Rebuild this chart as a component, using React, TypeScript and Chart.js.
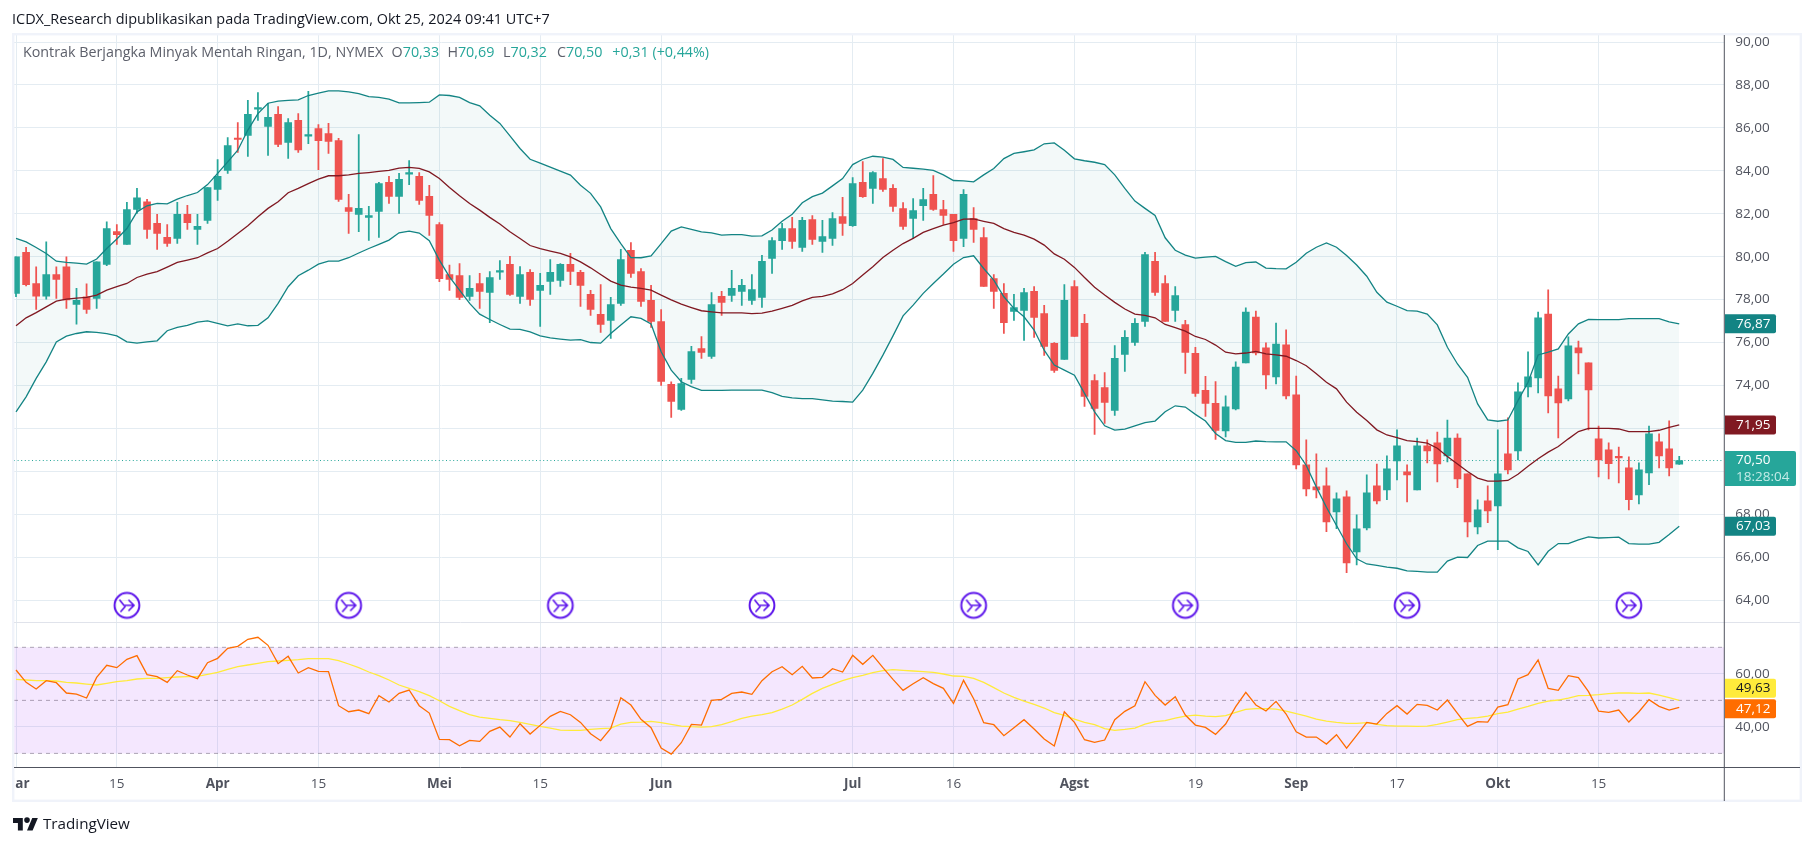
import React, { useEffect, useRef } from "react";
import { Chart, registerables } from "chart.js";

Chart.register(...registerables);

const opens = [78.29,80.20,78.75,78.16,79.17,79.53,77.77,78.13,78.05,79.64,81.17,80.57,82.20,82.56,81.55,80.90,80.85,81.97,81.27,81.69,83.13,84.02,85.51,85.65,86.87,86.07,86.63,85.32,86.35,85.62,85.97,85.74,85.41,82.29,81.97,81.83,82.11,83.46,82.81,83.85,83.74,82.81,81.50,79.17,79.12,78.15,78.75,78.33,79.28,79.64,78.15,79.27,78.43,78.85,78.89,79.64,79.27,78.24,77.31,77.03,77.82,80.29,79.31,77.96,76.98,74.05,72.88,74.28,75.72,75.35,78.15,78.19,78.38,77.96,78.10,79.92,80.75,81.31,80.43,81.73,80.71,80.85,81.87,81.45,83.46,83.18,83.64,83.18,82.24,81.78,82.38,82.90,82.20,81.97,80.85,81.78,80.89,78.98,78.29,77.45,77.49,78.38,77.35,75.96,75.21,78.61,76.89,74.23,73.90,72.83,75.44,76.00,76.98,79.78,78.75,77.49,76.84,75.49,73.77,73.16,71.88,72.91,75.05,77.19,75.75,74.40,75.89,73.56,70.30,69.27,69.32,68.11,68.81,66.24,67.36,69.32,69.13,70.48,69.97,69.13,71.18,71.32,70.72,71.55,69.88,67.41,68.62,68.39,70.81,70.95,73.93,74.35,77.33,73.84,73.37,75.75,75.05,71.51,71.00,70.67,70.16,68.90,69.92,71.37,71.04,70.33];
const highs = [79.99,80.43,79.53,80.69,79.53,79.99,78.52,78.74,79.76,81.62,81.50,82.53,83.18,82.67,81.97,81.50,82.53,82.39,81.97,83.22,84.53,85.55,86.25,87.28,87.65,87.14,87.00,86.44,86.67,87.70,86.16,86.21,85.51,82.90,85.69,82.34,83.46,83.74,83.88,84.48,83.92,83.32,81.59,79.61,79.68,79.12,79.22,79.30,79.82,80.01,79.54,79.40,79.22,79.87,79.68,80.15,79.36,78.43,78.70,78.10,80.34,80.66,79.45,78.66,77.54,74.17,74.33,75.82,76.28,78.33,78.38,79.36,78.94,79.17,80.06,80.89,81.55,81.83,81.83,81.92,81.69,82.06,82.76,83.69,84.43,83.97,84.57,83.36,82.52,82.71,83.18,83.78,82.62,81.97,83.13,82.29,81.36,79.17,78.75,78.24,78.52,78.61,77.73,76.00,78.70,78.89,77.31,74.51,74.60,75.86,76.56,77.12,80.20,80.20,79.12,78.61,77.03,75.77,74.42,74.18,73.51,75.10,77.61,77.47,75.98,76.91,76.59,74.44,71.46,70.81,70.16,68.99,69.09,67.97,69.83,70.34,70.72,71.93,70.30,71.55,71.46,71.83,72.39,71.74,69.88,68.67,69.32,71.93,72.49,74.12,75.56,77.42,78.45,74.44,76.26,76.07,75.05,72.11,71.32,71.13,70.67,70.39,72.11,71.74,72.35,70.69];
const lows = [78.13,78.64,77.54,78.02,78.05,77.59,76.86,77.35,77.59,79.58,80.57,80.57,82.01,80.85,80.34,80.48,80.62,81.27,80.57,81.55,82.62,83.88,84.86,84.67,86.35,84.72,85.13,84.58,84.86,85.27,84.06,84.81,82.57,81.08,81.17,80.76,80.90,82.48,82.01,83.36,82.43,80.99,78.83,78.43,78.00,77.96,77.59,76.93,78.94,78.19,77.82,77.73,76.75,78.24,78.61,78.70,77.68,77.26,76.47,76.19,77.73,79.03,77.68,76.70,74.00,72.51,72.83,74.09,75.26,75.26,77.26,77.91,77.73,77.77,77.63,79.22,80.34,80.38,80.24,80.57,80.20,80.52,80.99,81.41,82.76,82.48,83.04,82.11,81.27,80.85,81.69,82.15,81.50,80.24,80.47,80.66,78.61,77.59,76.42,77.03,76.10,76.24,75.40,74.60,75.21,76.28,73.02,71.72,72.23,72.60,74.65,75.86,76.75,78.19,76.98,76.98,74.56,73.49,72.55,71.48,71.60,72.86,75.05,75.42,73.84,74.07,73.37,70.11,68.85,68.76,67.18,67.32,65.27,65.64,67.27,68.48,68.67,69.60,68.57,69.13,70.39,69.50,70.44,69.23,66.94,67.08,67.60,66.34,69.88,70.53,73.46,73.65,72.72,71.55,73.28,74.54,71.93,69.74,69.64,69.46,68.20,68.48,69.37,70.16,69.78,70.32];
const closes = [79.99,78.70,78.16,79.17,78.94,77.98,77.96,77.54,79.76,81.31,81.03,82.20,82.74,81.27,81.08,80.62,81.97,81.59,81.41,83.22,83.74,85.18,85.46,86.63,86.95,86.49,85.23,86.25,84.98,85.69,85.41,85.37,82.67,82.11,82.25,81.92,83.41,82.81,83.60,83.88,82.62,81.92,78.98,78.94,78.10,78.52,78.38,79.03,79.31,78.24,79.17,78.01,78.66,79.27,79.64,79.31,78.66,77.54,76.84,77.77,79.87,79.22,77.91,76.98,74.19,73.25,74.09,75.58,75.54,77.77,77.87,78.52,78.66,78.47,79.78,80.75,81.31,80.71,81.69,80.80,80.94,81.78,81.55,83.41,82.80,83.92,83.13,82.34,81.41,82.15,82.66,82.20,81.92,80.75,82.90,81.27,78.61,78.38,76.93,77.63,78.33,77.17,75.82,74.70,77.96,76.28,73.49,72.93,73.21,75.26,76.24,76.89,80.10,78.33,76.98,78.19,75.54,73.63,73.16,71.90,73.00,74.86,77.42,75.51,74.49,75.93,73.51,70.30,69.18,69.13,67.64,68.71,65.73,67.32,68.99,68.62,70.11,71.18,69.83,71.18,70.95,70.34,71.55,69.64,67.64,68.20,68.15,69.88,70.06,73.70,74.40,77.15,73.51,73.18,75.84,75.51,73.79,70.53,70.35,70.62,68.67,70.07,71.74,70.72,70.16,70.50];

const upperBand = [80.85,80.69,80.43,80.15,79.79,79.73,79.70,79.65,79.89,80.38,80.82,81.31,82.09,82.37,82.48,82.46,82.68,82.85,82.99,83.36,83.88,84.42,84.96,85.90,86.67,87.15,87.25,87.28,87.31,87.51,87.62,87.73,87.73,87.68,87.60,87.46,87.42,87.34,87.17,87.17,87.18,87.20,87.54,87.51,87.42,87.18,87.03,86.59,86.21,85.63,85.04,84.54,84.36,84.17,83.99,83.80,83.33,82.95,82.32,81.31,80.61,79.96,79.95,80.04,80.61,81.19,81.39,81.27,81.16,81.11,81.00,81.03,81.03,80.96,80.97,81.24,81.65,81.98,82.51,82.80,82.96,83.30,83.64,84.29,84.54,84.68,84.64,84.53,84.16,84.12,84.08,84.02,83.81,83.55,83.53,83.49,83.81,84.11,84.57,84.81,84.89,84.98,85.26,85.30,84.96,84.56,84.47,84.40,84.29,83.81,83.18,82.59,82.25,81.92,80.88,80.30,80.07,79.93,79.98,80.01,79.77,79.55,79.72,79.75,79.47,79.44,79.43,79.74,80.16,80.44,80.64,80.44,80.05,79.61,79.09,78.34,77.88,77.69,77.49,77.46,77.32,76.82,75.78,75.00,74.38,73.14,72.39,72.33,72.39,73.29,74.15,75.42,75.55,75.70,76.40,76.87,77.08,77.07,77.07,77.07,77.11,77.11,77.11,77.11,76.96,76.87];
const basisLine = [76.78,77.15,77.39,77.66,77.93,78.02,78.07,78.10,78.21,78.44,78.60,78.75,79.03,79.19,79.30,79.51,79.73,79.84,79.95,80.18,80.38,80.72,81.08,81.44,81.86,82.25,82.56,82.98,83.18,83.40,83.61,83.77,83.77,83.81,83.88,83.92,83.97,84.02,84.13,84.16,84.11,83.95,83.64,83.22,82.84,82.48,82.17,81.83,81.52,81.16,80.85,80.52,80.38,80.26,80.15,79.99,79.76,79.48,79.17,78.86,78.67,78.58,78.52,78.44,78.21,77.99,77.79,77.63,77.48,77.43,77.38,77.38,77.38,77.35,77.37,77.46,77.59,77.73,77.94,78.10,78.15,78.27,78.46,78.75,79.14,79.53,79.96,80.30,80.61,80.85,81.13,81.31,81.47,81.59,81.75,81.76,81.65,81.55,81.31,81.13,81.00,80.82,80.54,80.13,79.88,79.50,79.03,78.58,78.21,77.87,77.56,77.32,77.26,77.15,76.84,76.69,76.53,76.28,76.14,75.88,75.55,75.47,75.51,75.59,75.47,75.42,75.36,75.16,74.92,74.54,74.15,73.84,73.22,72.75,72.36,71.93,71.69,71.57,71.43,71.38,71.31,71.07,70.69,70.34,69.99,69.68,69.54,69.54,69.57,69.86,70.23,70.58,70.89,71.15,71.51,71.85,72.00,72.00,72.00,71.97,71.85,71.85,71.85,71.91,72.05,72.16];
const lowerBand = [72.77,73.47,74.33,75.10,76.03,76.30,76.42,76.50,76.47,76.41,76.31,76.03,75.97,76.03,76.08,76.55,76.70,76.80,76.95,77.01,76.89,76.78,76.87,76.78,76.80,77.15,77.82,78.60,79.11,79.37,79.65,79.79,79.79,79.95,80.17,80.38,80.57,80.77,81.11,81.19,81.10,80.74,79.84,79.06,78.44,77.82,77.32,77.07,76.84,76.62,76.61,76.50,76.31,76.22,76.16,76.11,76.13,76.00,75.97,76.42,76.81,77.20,77.12,76.86,75.57,74.71,74.17,73.94,73.77,73.77,73.77,73.78,73.78,73.78,73.78,73.66,73.49,73.42,73.38,73.38,73.33,73.27,73.25,73.22,73.78,74.56,75.41,76.31,77.24,77.74,78.29,78.75,79.19,79.65,79.96,80.04,79.45,78.91,78.13,77.59,77.20,76.58,75.64,74.95,74.71,74.48,73.63,72.77,72.12,71.92,71.96,72.12,72.27,72.34,72.77,73.05,72.99,72.65,72.34,71.76,71.43,71.35,71.35,71.41,71.38,71.37,71.37,70.96,70.27,69.26,68.32,67.47,66.62,65.92,65.68,65.61,65.53,65.48,65.36,65.33,65.30,65.30,65.81,66.00,65.98,66.54,66.74,66.74,66.74,66.43,66.26,65.64,66.27,66.63,66.63,66.80,66.94,66.89,66.91,66.93,66.63,66.60,66.60,66.69,67.05,67.44];

const rsiValues = [61.45,56.79,54.28,57.42,56.67,52.77,52.39,50.88,58.68,63.21,62.33,65.47,66.86,59.69,58.93,56.79,61.20,59.56,58.18,64.22,65.85,69.62,70.38,73.02,73.78,70.76,63.84,66.61,60.32,62.33,60.94,60.82,47.99,45.72,46.35,44.97,51.76,49.37,52.64,53.90,47.99,45.22,35.28,35.16,32.89,34.90,34.53,38.30,39.94,36.16,41.19,37.29,40.57,43.96,45.85,44.59,41.70,37.42,34.78,39.43,51.01,48.24,42.83,39.68,32.01,29.75,34.02,40.94,40.69,50.00,50.38,52.64,53.15,52.26,57.42,60.82,62.71,59.69,62.83,58.43,58.68,61.95,60.69,66.98,63.59,66.98,62.33,57.93,53.77,56.29,58.55,56.29,54.53,48.87,57.55,50.63,41.57,40.82,36.67,39.68,42.70,39.18,35.41,32.77,45.72,41.70,35.16,34.15,35.03,42.70,45.85,47.99,57.04,51.89,48.24,51.38,44.46,40.69,39.81,37.17,41.07,47.61,53.02,48.24,45.97,49.62,44.84,38.17,36.16,36.16,33.52,37.04,32.01,36.79,41.70,41.07,45.09,47.99,44.84,48.49,48.11,46.35,50.13,45.09,40.19,41.95,41.82,47.48,48.36,58.05,59.69,65.22,54.53,53.77,59.31,58.55,53.27,45.97,45.47,46.35,41.82,45.72,50.25,47.74,46.35,47.36];
const rsiAverage = [57.93,57.67,57.42,57.42,57.30,56.79,56.54,56.16,55.79,56.42,57.04,57.42,58.05,58.30,58.30,58.55,58.81,58.93,59.06,59.81,60.57,61.70,62.71,63.33,63.96,64.59,64.84,65.10,65.35,65.73,65.73,65.73,64.97,63.71,62.33,60.69,59.31,57.67,55.79,54.53,53.27,51.76,49.87,47.74,46.10,44.59,43.71,43.21,42.70,42.33,41.70,40.94,40.19,39.56,38.80,38.68,38.68,39.06,39.31,39.56,41.07,41.70,41.82,42.07,41.57,40.94,40.31,40.06,39.94,40.06,40.82,41.95,43.21,44.09,44.59,45.35,46.73,48.24,50.38,52.64,54.53,56.04,57.42,58.55,59.44,60.44,61.20,61.57,61.32,61.07,60.82,60.57,59.94,59.18,59.06,58.30,56.79,54.78,52.77,51.13,49.75,48.49,47.11,45.35,44.34,42.96,41.70,40.82,39.31,38.68,39.06,39.56,41.07,41.95,42.33,43.33,44.09,44.46,44.09,43.84,44.21,45.47,46.60,46.85,46.85,46.73,45.97,44.97,44.09,42.96,42.20,41.70,41.32,41.32,41.57,40.94,40.44,40.31,40.31,40.19,40.31,40.94,41.82,42.70,43.21,43.46,44.09,44.97,45.60,46.73,47.74,48.87,49.75,50.13,50.88,51.76,51.89,52.14,52.52,52.77,52.77,52.64,52.77,52.01,51.01,50.00];

const priceTicks = [64,66,68,70,72,74,76,78,80,82,84,86,88,90];
const rsiTicks = [40,60];
const timeTickIndex = [0,10,20,30,42,52,64,83,93,105,117,127,137,147,157];
const timeTickLabels = ["Mar","15","Apr","15","Mei","15","Jun","Jul","16","Agst","19","Sep","17","Okt","15"];
const monthLabels = ["Mar","Apr","Mei","Jun","Jul","Agst","Sep","Okt"];
const eventIndex = [11,33,54,74,95,116,138,160];
const eventPrice = 63.75;
const lastPrice = 70.5;
const rsiBands = [70,50,30];
const xRange = [-0.2,169.47];

const labelUpper = "76,87";
const labelBasis = "71,95";
const labelLower = "67,03";
const labelLast = "70,50";
const labelTimer = "18:28:04";
const labelRsiMa = "49,63";
const labelRsi = "47,12";

const titleText = "ICDX_Research dipublikasikan pada TradingView.com, Okt 25, 2024 09:41 UTC+7";
const legendName = "Kontrak Berjangka Minyak Mentah Ringan, 1D, NYMEX";
const legendOhlc = [["O","70,33"],["H","70,69"],["L","70,32"],["C","70,50"]];
const legendChange = "+0,31 (+0,44%)";

const UP = "#26a69a";
const DOWN = "#ef5350";
const BAND = "#138484";
const BASIS = "#801922";
const GRID = "#e4ecf2";
const TEXT = "#50535e";
const FONT = '"Open Sans", sans-serif';

const series = (arr: number[]) => arr.map((y, x) => ({ x, y }));
const flat = (y: number) => xRange.map((x) => ({ x, y }));

function makeIcon() {
  const c = document.createElement("canvas");
  c.width = 30;
  c.height = 30;
  const g = c.getContext("2d")!;
  g.strokeStyle = "#5e17eb";
  g.lineWidth = 2;
  g.lineCap = "round";
  g.beginPath();
  g.arc(15, 15, 12.4, 0, Math.PI * 2);
  g.stroke();
  g.lineWidth = 1.7;
  g.beginPath();
  g.moveTo(8, 10);
  g.lineTo(12, 15);
  g.lineTo(22, 15);
  g.moveTo(17, 10);
  g.lineTo(22, 15);
  g.lineTo(17, 20);
  g.moveTo(9, 21);
  g.lineTo(13, 16.5);
  g.stroke();
  return c;
}

const decor = {
  id: "decor",
  afterDraw(chart: any) {
    const { ctx, scales } = chart;
    const L = 14, R = 1800, T = 35, B = 800;
    const ax = 1724.3;
    ctx.save();
    // clip the first date label at the pane's edge
    ctx.fillStyle = "#ffffff";
    ctx.fillRect(0, 768, 12.5, 34);
    // frame
    ctx.strokeStyle = "#f0f3fa";
    ctx.lineWidth = 2.4;
    ctx.strokeRect(13.2, 34.2, 1787.6, 766.6);
    // pane separator and axis lines
    ctx.lineWidth = 1;
    ctx.strokeStyle = "#e0e3eb";
    ctx.beginPath();
    ctx.moveTo(L, 622.5);
    ctx.lineTo(R, 622.5);
    ctx.stroke();
    ctx.strokeStyle = "#50535e";
    ctx.beginPath();
    ctx.moveTo(L, 767.5);
    ctx.lineTo(R, 767.5);
    ctx.moveTo(ax, T);
    ctx.lineTo(ax, B + 1);
    ctx.stroke();

    // header texts
    ctx.textBaseline = "middle";
    ctx.textAlign = "left";
    ctx.font = `14.45px ${FONT}`;
    ctx.fillStyle = "#131722";
    ctx.fillText(titleText, 12, 20);
    ctx.font = `14.3px ${FONT}`;
    ctx.fillStyle = "#5d606b";
    ctx.fillText(legendName, 23, 53);
    const starts = [391.6, 447.4, 503, 557];
    legendOhlc.forEach(([k, v], i) => {
      ctx.fillStyle = "#5d606b";
      ctx.fillText(k, starts[i], 53);
      const w = ctx.measureText(k).width;
      ctx.fillStyle = UP;
      ctx.fillText(v, starts[i] + w, 53);
    });
    ctx.fillStyle = UP;
    ctx.fillText(legendChange, 612.3, 53);

    // last value tags on the right axis
    const tag = (y: number, h: number, w: number, bg: string) => {
      ctx.fillStyle = bg;
      ctx.beginPath();
      ctx.roundRect(ax + 0.7, y, w, h, [0, 2, 2, 0]);
      ctx.fill();
    };
    const text = (s: string, y: number, col: string) => {
      ctx.fillStyle = col;
      ctx.font = `13.5px ${FONT}`;
      ctx.fillText(s, 1736, y);
    };
    const py = scales.y;
    const ry = scales.rsi;
    const n = closes.length - 1;
    const yUpper = py.getPixelForValue(upperBand[n]);
    tag(yUpper - 9.5, 19, 51, BAND);
    text(labelUpper, yUpper, "#ffffff");
    const yBasis = py.getPixelForValue(basisLine[n]);
    tag(yBasis - 9.5, 19, 51, BASIS);
    text(labelBasis, yBasis, "#ffffff");
    const yLast = py.getPixelForValue(lastPrice);
    tag(yLast - 9.5, 35, 71, UP);
    text(labelLast, yLast, "#ffffff");
    text(labelTimer, yLast + 16.5, "#c4ebe7");
    const yLower = py.getPixelForValue(lowerBand[n]);
    tag(yLower - 9.5, 19, 51, BAND);
    text(labelLower, yLower, "#ffffff");
    const yMa = ry.getPixelForValue(rsiAverage[n]) - 12;
    tag(yMa - 9.5, 19, 51, "#ffeb3b");
    text(labelRsiMa, yMa, "#131722");
    const yRsi = ry.getPixelForValue(rsiValues[n]) + 1.3;
    tag(yRsi - 9.5, 19, 51, "#ff6d00");
    text(labelRsi, yRsi, "#ffffff");

    // TradingView mark and wordmark
    ctx.translate(13, 815.2);
    ctx.scale(0.7, 0.7);
    ctx.fillStyle = "#131722";
    ctx.fill(new Path2D("M14 22H7V11H0V4h14v18zM28 22h-8l7.5-18h8L28 22z"));
    ctx.beginPath();
    ctx.arc(20, 7, 4, 0, Math.PI * 2);
    ctx.fill();
    ctx.setTransform(1, 0, 0, 1, 0, 0);
    ctx.font = `15.2px ${FONT}`;
    ctx.fillStyle = "#131722";
    ctx.fillText("TradingView", 43, 825);
    ctx.restore();
  },
};

export default function App() {
  const ref = useRef<HTMLCanvasElement>(null);
  useEffect(() => {
    document.body.style.margin = "0";
    document.body.style.background = "#ffffff";
    const colors = closes.map((c, i) => (c >= opens[i] ? UP : DOWN));
    const tickStyle = { color: TEXT, font: { family: FONT, size: 13.5 } };
    const axisBase = {
      type: "linear" as const,
      position: "right" as const,
      stack: "panes",
      grid: { color: GRID, drawTicks: false, lineWidth: 1 },
      border: { display: false },
      afterFit(s: any) {
        s.width = 1801.7 - 1724.3;
        s.paddingTop = 0;
        s.paddingBottom = 0;
      },
    };
    const line = (label: string, data: any[], color: string, yAxisID: string, width = 1.3, extra: any = {}) => ({
      type: "line" as const,
      label,
      data,
      yAxisID,
      borderColor: color,
      borderWidth: width,
      pointRadius: 0,
      tension: 0,
      order: 1,
      fill: false,
      ...extra,
    });
    const chart = new Chart(ref.current!, {
      type: "bar",
      plugins: [decor],
      data: {
        datasets: [
          line("Batas atas", series(upperBand), BAND, "y", 1.3, {
            fill: { target: 1 },
            backgroundColor: "rgba(19,132,132,0.05)",
          }),
          line("Batas bawah", series(lowerBand), BAND, "y"),
          line("Basis", series(basisLine), BASIS, "y"),
          line("Harga terakhir", flat(lastPrice), UP, "y", 1, { borderDash: [1, 2.6], order: 20 }),
          {
            type: "bar" as const,
            label: "Sumbu",
            data: lows.map((l, x) => ({ x, y: [l, highs[x]] })),
            yAxisID: "y",
            backgroundColor: colors,
            barThickness: 1.1,
            grouped: false,
            order: 12,
          },
          {
            type: "bar" as const,
            label: "Badan",
            data: opens.map((o, x) => ({ x, y: [o, closes[x]] })),
            yAxisID: "y",
            backgroundColor: colors,
            barThickness: 7,
            minBarLength: 1.5,
            grouped: false,
            order: 11,
          },
          line("Peristiwa", eventIndex.map((x) => ({ x, y: eventPrice })), "#5e17eb", "y", 0, {
            showLine: false,
            pointStyle: makeIcon(),
            pointRadius: 13,
            clip: false,
          }),
          line("RSI 70", flat(rsiBands[0]), "rgba(120,110,130,0.6)", "rsi", 1, {
            borderDash: [4, 4],
            order: 5,
            fill: { target: 9 },
            backgroundColor: "rgba(156,39,243,0.11)",
          }),
          line("RSI 50", flat(rsiBands[1]), "rgba(120,110,130,0.6)", "rsi", 1, { borderDash: [4, 4], order: 5 }),
          line("RSI 30", flat(rsiBands[2]), "rgba(120,110,130,0.6)", "rsi", 1, { borderDash: [4, 4], order: 5 }),
          line("RSI MA", series(rsiAverage), "#ffeb3b", "rsi", 1.3, { order: 2 }),
          line("RSI", series(rsiValues), "#ff6d00", "rsi", 1.3, { order: 1 }),
        ] as any,
      },
      options: {
        responsive: false,
        animation: false,
        layout: { padding: { left: 14, top: 35, right: 1814 - 1801.7, bottom: 846 - 801.7 } },
        plugins: {
          legend: { display: false },
          tooltip: { enabled: false },
          filler: { drawTime: "beforeDatasetsDraw" },
        } as any,
        scales: {
          x: {
            type: "linear",
            min: xRange[0],
            max: xRange[1],
            offset: false,
            grid: { color: GRID, drawTicks: false, offset: false },
            border: { display: false },
            afterBuildTicks(s: any) {
              s.ticks = timeTickIndex.map((value) => ({ value }));
            },
            afterFit(s: any) {
              s.height = 801.7 - 767.4;
              s.paddingLeft = 0;
              s.paddingRight = 0;
            },
            ticks: {
              autoSkip: false,
              maxRotation: 0,
              padding: 9,
              color: TEXT,
              callback: (v: any) => timeTickLabels[timeTickIndex.indexOf(Number(v))],
              font: (c: any) => ({
                family: FONT,
                size: 13.5,
                weight: monthLabels.includes(timeTickLabels[timeTickIndex.indexOf(c.tick?.value)]) ? "bold" : "normal",
              }),
            },
          },
          y: {
            ...axisBase,
            min: 62.975,
            max: 90.33,
            stackWeight: 587,
            afterBuildTicks(s: any) {
              s.ticks = priceTicks.map((value) => ({ value }));
            },
            ticks: {
              ...tickStyle,
              autoSkip: false,
              padding: 11,
              callback: (v: any) => Number(v).toFixed(2).replace(".", ","),
            },
          },
          rsi: {
            ...axisBase,
            min: 24.72,
            max: 79.55,
            stackWeight: 145.4,
            afterBuildTicks(s: any) {
              s.ticks = rsiTicks.map((value) => ({ value }));
            },
            ticks: {
              ...tickStyle,
              autoSkip: false,
              padding: 11,
              callback: (v: any) => Number(v).toFixed(2).replace(".", ","),
            },
          },
        },
      } as any,
    });
    return () => chart.destroy();
  }, []);
  return <canvas ref={ref} width={1814} height={846} style={{ display: "block" }} />;
}
